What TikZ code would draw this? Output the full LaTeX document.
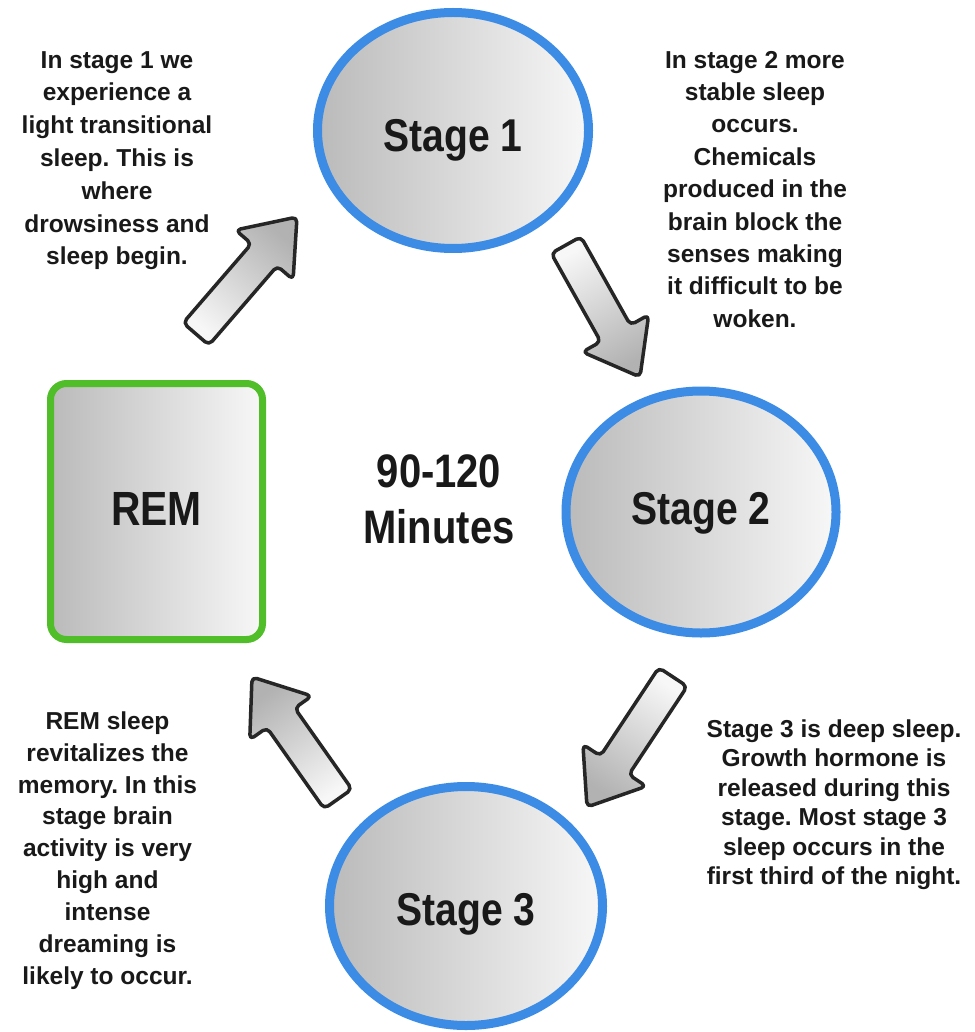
\documentclass[tikz,border=0pt]{standalone}
\usepackage{fontspec}
\setmainfont{Liberation Sans}
\newfontfamily\bigfont{Liberation Sans}[FakeStretch=0.85]
\usetikzlibrary{shapes.geometric,calc}
\definecolor{stageblue}{RGB}{60,140,230}
\definecolor{remgreen}{RGB}{80,190,40}
\definecolor{txt}{RGB}{25,25,25}
\frenchspacing
\tikzset{
  stagenode/.style={ellipse, draw=stageblue, line width=9pt, inner sep=0pt,
    left color=black!27, right color=black!3, text=txt, text depth=0pt,
    font=\bigfont\bfseries\fontsize{46}{50}\selectfont},
  remnode/.style={rectangle, rounded corners=16pt, draw=remgreen, line width=7pt, inner sep=0pt,
    left color=black!27, right color=black!3, text=txt, text depth=0pt,
    font=\bigfont\bfseries\fontsize{48}{52}\selectfont},
  bigtext/.style={align=center, anchor=north, inner sep=0pt, text=txt,
    font=\bigfont\bfseries\fontsize{47}{56}\selectfont},
  smalltext/.style={align=center, anchor=north, inner sep=0pt, text=txt,
    font=\bfseries\fontsize{24.5}{#1}\selectfont},
  arrowbody/.style={draw=black!85, line width=3.5pt, rounded corners=5pt, line join=round,
    top color=black!30, bottom color=black!3}
}
\newcommand\blockarrow[3]{%
  \coordinate (hb) at ($(#2)!50pt!(#1)$);
  \path[arrowbody, shading angle=#3]
    ($(#1)!17pt!90:(#2)$) -- ($(hb)!17pt!90:(#2)$) -- ($(hb)!38pt!90:(#2)$) -- (#2)
    -- ($(hb)!38pt!-90:(#2)$) -- ($(hb)!17pt!-90:(#2)$) -- ($(#1)!17pt!-90:(#2)$) -- cycle;}
\begin{document}
\begin{tikzpicture}[x=1pt, y=-1pt]
  \path[use as bounding box, fill=white] (0,0) rectangle (974,1032);

  % stage nodes
  \node[stagenode, minimum width=271pt, minimum height=236pt, text height=42pt] (s1) at (453,130.5) {Stage 1};
  \node[stagenode, minimum width=270pt, minimum height=242pt, text height=24pt] (s2) at (701,512) {Stage 2};
  \node[stagenode, minimum width=273pt, minimum height=239pt, text height=38pt] (s3) at (466,906) {Stage 3};
  \node[remnode, minimum width=212pt, minimum height=256pt, text height=27pt] (rem) at (156.5,511.5) {REM};

  % centre text
  \node[bigtext] (cyc) at (439,447.8) {\strut 90-120\\Minutes};

  % descriptions
  \node[smalltext=32.8] (t1) at (117,45.0) {\strut In stage 1 we\\experience a\\light transitional\\sleep. This is\\where\\drowsiness and\\sleep begin.};
  \node[smalltext=32.4] (t2) at (755,45.3) {\strut In stage 2 more\\stable sleep\\occurs.\\Chemicals\\produced in the\\brain block the\\senses making\\it difficult to be\\woken.};
  \node[smalltext=29.5] (t3) at (834,716.4) {\strut Stage 3 is deep sleep.\\Growth hormone is\\released during this\\stage. Most stage 3\\sleep occurs in the\\first third of the night.};
  \node[smalltext=31.9] (t4) at (107.5,706.7) {\strut REM sleep\\revitalizes the\\memory. In this\\stage brain\\activity is very\\high and\\intense\\dreaming is\\likely to occur.};

  % block arrows
  \coordinate (a1t) at (196,334); \coordinate (a1h) at (297,217);
  \coordinate (a2t) at (566,245); \coordinate (a2h) at (640,377);
  \coordinate (a3t) at (673,677); \coordinate (a3h) at (587,807);
  \coordinate (a4t) at (338,799); \coordinate (a4h) at (252,677);
  \blockarrow{a1t}{a1h}{-40.8}
  \blockarrow{a2t}{a2h}{-150.7}
  \blockarrow{a3t}{a3h}{146.5}
  \blockarrow{a4t}{a4h}{35.2}
\end{tikzpicture}
\end{document}
